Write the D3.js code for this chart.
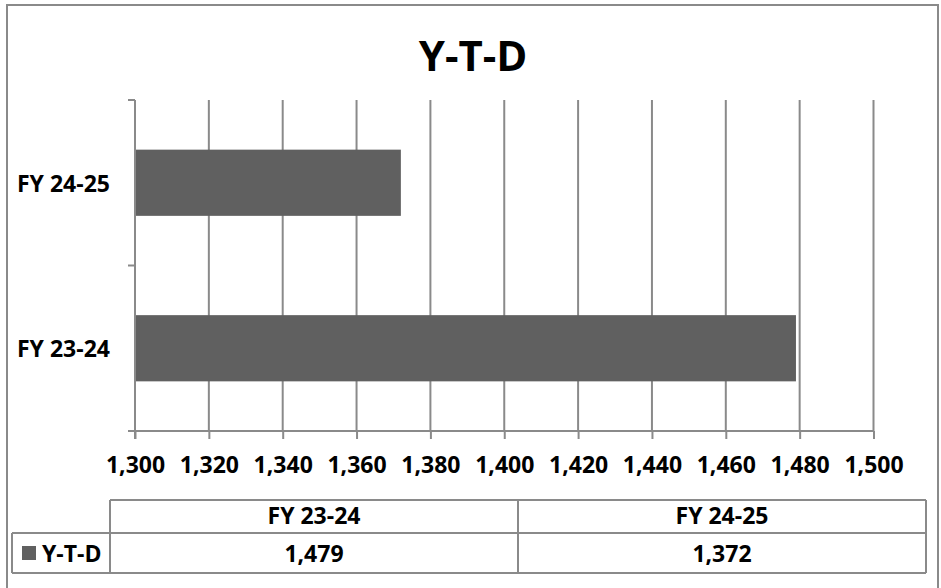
<!DOCTYPE html>
<html>
<head>
<meta charset="utf-8">
<script src="https://cdn.jsdelivr.net/npm/d3@7"></script>
<style>
  html, body { margin: 0; padding: 0; background: #fff; }
  svg { display: block; }
  text { font-family: "Open Sans", sans-serif; font-weight: bold; fill: #000; }
</style>
</head>
<body>
<svg id="chart" width="941" height="588"></svg>
<script>
const title = "Y-T-D";
const seriesName = "Y-T-D";
const categories = ["FY 23-24", "FY 24-25"];
const values = [1479, 1372];
const xTicks = [1300, 1320, 1340, 1360, 1380, 1400, 1420, 1440, 1460, 1480, 1500];

const svg = d3.select("#chart");
const lineColor = "#8a8a8a";
const barColor = "#606060";
const fs = "23px";

// outer border
svg.append("rect").attr("x", 7).attr("y", 5).attr("width", 931).attr("height", 590)
  .attr("fill", "#fff").attr("stroke", lineColor).attr("stroke-width", 2);

// title
svg.append("text").attr("x", 473).attr("y", 71).attr("text-anchor", "middle")
  .style("font-size", "42px").text(title);

const plot = { left: 135, right: 873.5, top: 100, bottom: 431 };
const x = d3.scaleLinear().domain([1300, 1500]).range([plot.left, plot.right]);
// categories drawn bottom-to-top (first category at bottom)
const y = d3.scaleBand().domain(categories.slice().reverse()).range([plot.top, plot.bottom])
  .paddingInner(0.6).paddingOuter(0.3);

// gridlines
svg.append("g").selectAll("line").data(xTicks.slice(1)).join("line")
  .attr("x1", d => x(d)).attr("x2", d => x(d))
  .attr("y1", plot.top).attr("y2", plot.bottom)
  .attr("stroke", lineColor).attr("stroke-width", 2);

// bars
svg.append("g").selectAll("rect").data(categories).join("rect")
  .attr("x", x(1300))
  .attr("y", d => y(d))
  .attr("width", (d, i) => x(values[i]) - x(1300))
  .attr("height", y.bandwidth())
  .attr("fill", barColor);

// x axis
const xAxis = svg.append("g").attr("transform", `translate(0,${plot.bottom})`)
  .call(d3.axisBottom(x).tickValues(xTicks).tickSize(8).tickFormat(d3.format(",")));
xAxis.select(".domain").attr("stroke", lineColor).attr("stroke-width", 2)
  .attr("d", `M${plot.left},0H${plot.right}`);
xAxis.selectAll(".tick line").attr("stroke", lineColor).attr("stroke-width", 2);
xAxis.selectAll(".tick text").attr("y", 0).attr("dy", 42)
  .style("font-size", fs).style("font-family", "'Open Sans', sans-serif")
  .style("font-weight", "bold").attr("fill", "#000");

// y axis
const yAxis = svg.append("g");
yAxis.append("line").attr("x1", plot.left).attr("x2", plot.left)
  .attr("y1", plot.top).attr("y2", plot.bottom + 8)
  .attr("stroke", lineColor).attr("stroke-width", 2);
const yTickPos = [plot.top, (plot.top + plot.bottom) / 2, plot.bottom];
yAxis.selectAll("line.t").data(yTickPos).join("line").attr("class", "t")
  .attr("x1", plot.left - 7).attr("x2", plot.left)
  .attr("y1", d => d).attr("y2", d => d)
  .attr("stroke", lineColor).attr("stroke-width", 2);
yAxis.selectAll("text").data(categories).join("text")
  .attr("x", 17).attr("y", d => y(d) + y.bandwidth() / 2 + 9)
  .style("font-size", fs).text(d => d);

// data table
const tbl = { left: 110, right: 926, hTop: 500, hBot: 533, rBot: 573, legLeft: 12 };
const colX = d3.scaleBand().domain(categories).range([tbl.left, tbl.right]);
const tg = svg.append("g");
const tl = (x1, y1, x2, y2) => tg.append("line").attr("x1", x1).attr("y1", y1).attr("x2", x2).attr("y2", y2)
  .attr("stroke", lineColor).attr("stroke-width", 2);
tl(tbl.left, tbl.hTop, tbl.right, tbl.hTop);
tl(tbl.legLeft, tbl.hBot, tbl.right, tbl.hBot);
tl(tbl.legLeft, tbl.rBot, tbl.right, tbl.rBot);
tl(tbl.legLeft, tbl.hBot, tbl.legLeft, tbl.rBot);
tl(tbl.left, tbl.hTop, tbl.left, tbl.rBot);
categories.forEach(c => tl(colX(c) + colX.bandwidth(), tbl.hTop, colX(c) + colX.bandwidth(), tbl.rBot));

tg.selectAll("text.h").data(categories).join("text").attr("class", "h")
  .attr("x", d => colX(d) + colX.bandwidth() / 2).attr("y", 524)
  .attr("text-anchor", "middle").style("font-size", fs).text(d => d);
tg.selectAll("text.v").data(values).join("text").attr("class", "v")
  .attr("x", (d, i) => colX(categories[i]) + colX.bandwidth() / 2).attr("y", 562)
  .attr("text-anchor", "middle").style("font-size", fs).text(d => d3.format(",")(d));

// legend key
tg.append("rect").attr("x", 22).attr("y", 546).attr("width", 14).attr("height", 14).attr("fill", barColor);
tg.append("text").attr("x", 42).attr("y", 562).style("font-size", fs).text(seriesName);
</script>
</body>
</html>
